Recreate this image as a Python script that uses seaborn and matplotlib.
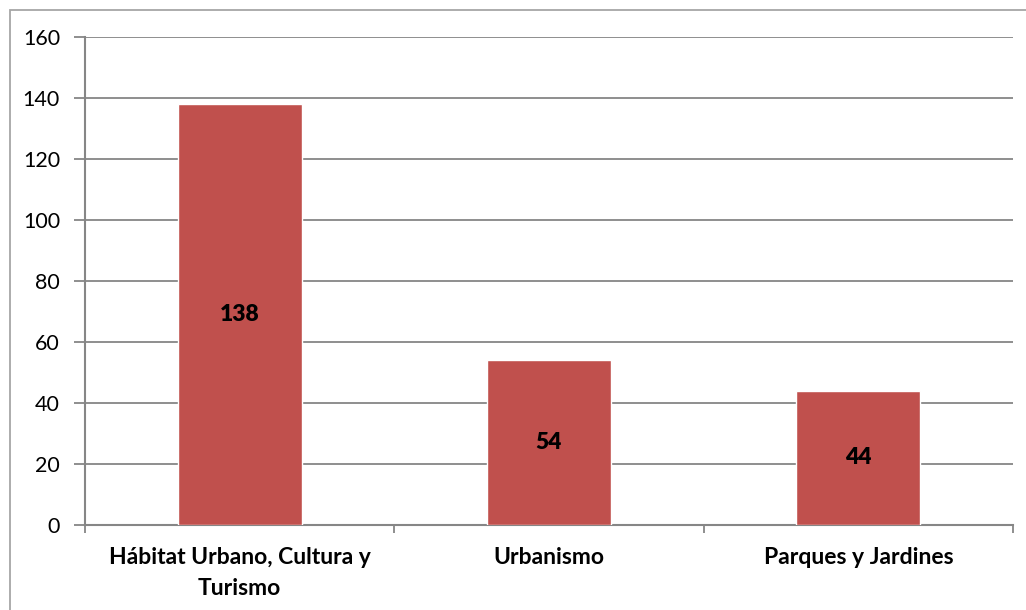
import matplotlib
matplotlib.use("Agg")
import matplotlib.pyplot as plt
import seaborn as sns
import pandas as pd
from matplotlib.patches import Rectangle

categories = ["Hábitat Urbano, Cultura y\nTurismo", "Urbanismo", "Parques y Jardines"]
values = [138, 54, 44]
y_ticks = [0, 20, 40, 60, 80, 100, 120, 140, 160]

sns.set_theme(style="white")
plt.rcParams["font.family"] = ["Lato", "DejaVu Sans"]

df = pd.DataFrame({"categoria": categories, "valor": values})

fig = plt.figure(figsize=(10.26, 6.10), dpi=100)
ax = fig.add_axes([85 / 1026, 1 - 525 / 610, (1013 - 85) / 1026, (525 - 37) / 610])

grid_col = "#868686"
bar_col = "#C0504D"

sns.barplot(data=df, x="categoria", y="valor", color=bar_col, width=0.4,
            saturation=1, ax=ax, zorder=3)

ax.set_ylim(0, 160)
ax.set_xlim(-0.5, len(categories) - 0.5)
ax.set_yticks(y_ticks)
ax.set_yticklabels([str(t) for t in y_ticks], fontsize=15.5, color="black")
ax.set_xlabel("")
ax.set_ylabel("")

for t in y_ticks[1:]:
    ax.axhline(t, color=grid_col, lw=1.3, zorder=1)

for s in ["top", "right"]:
    ax.spines[s].set_visible(False)
for s in ["left", "bottom"]:
    ax.spines[s].set_color(grid_col)
    ax.spines[s].set_linewidth(1.5)

ax.tick_params(axis="y", length=8, width=1.3, color=grid_col, pad=10, left=True)
ax.set_xticks(range(len(categories)))
ax.set_xticklabels(categories, fontsize=16.5, fontweight="bold", color="black",
                   linespacing=1.6)
ax.tick_params(axis="x", length=0, pad=16)
ax.set_xticks([i - 0.5 for i in range(len(categories) + 1)], minor=True)
ax.tick_params(axis="x", which="minor", length=6, width=1.3, color=grid_col, bottom=True)

for p, v in zip(ax.patches, values):
    ax.text(p.get_x() + p.get_width() / 2, v / 2, str(v), ha="center", va="center",
            fontsize=16.5, fontweight="heavy", color="black", zorder=4)

fig.patches.append(Rectangle((9.5 / 1026, -0.1), 1.2, 1 - 10 / 610 + 0.1,
                             transform=fig.transFigure, fill=False,
                             edgecolor="#A6A6A6", lw=1.3, zorder=0))

fig.savefig("out.png", dpi=100)
